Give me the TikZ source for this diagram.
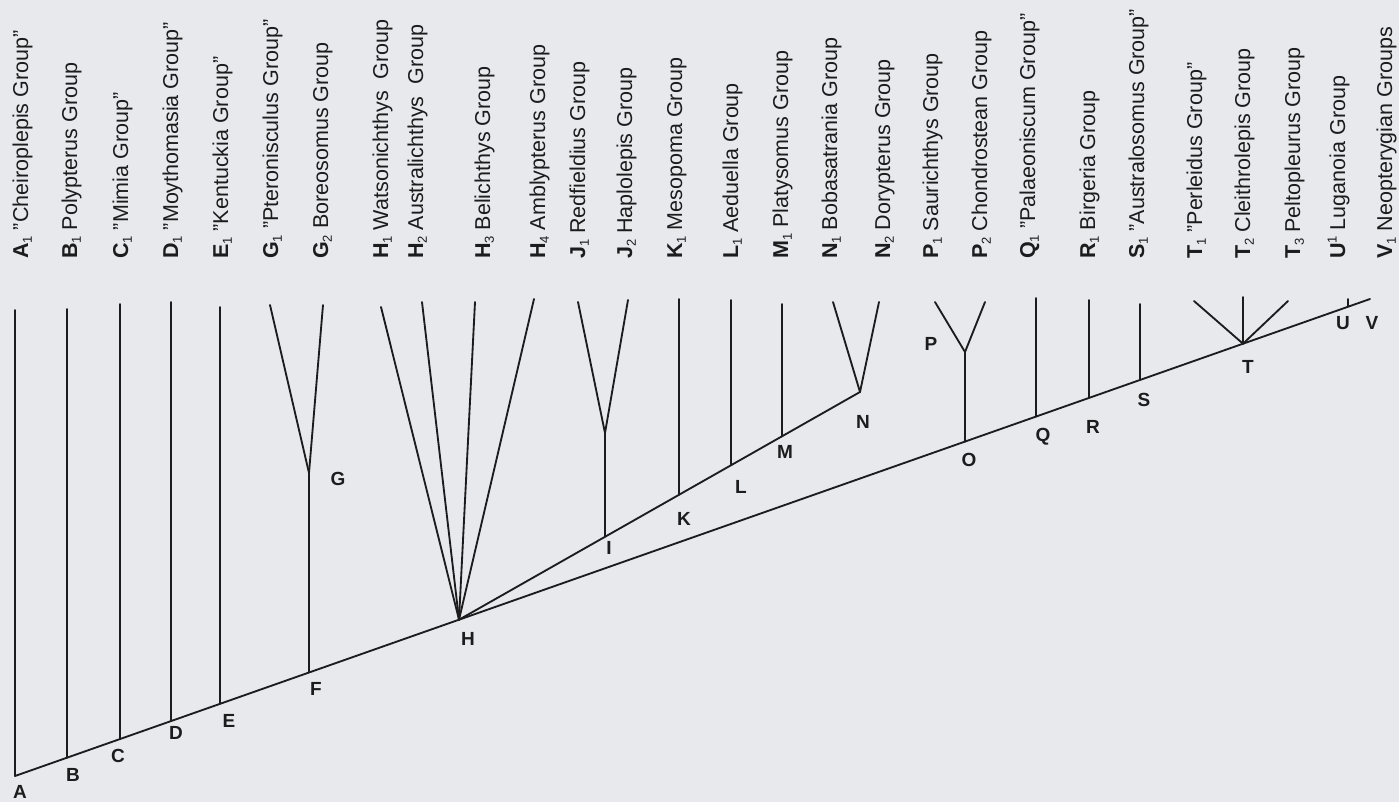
\documentclass[tikz,border=0pt]{standalone}
\usepackage{fontspec}
\setmainfont{Liberation Sans}
\definecolor{bgpaper}{RGB}{232,233,236}
\definecolor{ink}{RGB}{28,28,30}
\newcommand\sbs[1]{\raisebox{-0.35ex}{\fontsize{13}{13}\selectfont #1}}
\newcommand\sps[1]{\raisebox{0.75ex}{\fontsize{13}{13}\selectfont #1}}
\begin{document}
\begin{tikzpicture}[x=1pt,y=-1pt,
  branch/.style={draw=ink, line width=1.85pt, line cap=round, line join=round},
  taxon/.style={rotate=90, anchor=base west, inner sep=0pt, text=ink, font=\fontsize{21.5}{24}\selectfont},
  nodelbl/.style={text=ink, inner sep=0pt, font=\fontsize{19}{22}\selectfont\bfseries}]
\fill[bgpaper] (0,0) rectangle (1399,802);
\useasboundingbox (0,0) rectangle (1399,802);
% junctions on the main line
\coordinate (A) at (15,776);
\coordinate (B) at (67,757.7);
\coordinate (C) at (120,739.0);
\coordinate (D) at (171,721.1);
\coordinate (E) at (220,703.8);
\coordinate (F) at (309,672.5);
\coordinate (H) at (459,619.7);
\coordinate (O) at (965,441.6);
\coordinate (Q) at (1036,416.6);
\coordinate (R) at (1089,397.9);
\coordinate (S) at (1140,380.0);
\coordinate (T) at (1243,343.7);
\coordinate (U) at (1348,306.7);
\coordinate (Vend) at (1370,299);
% junctions on the second line
\coordinate (I) at (605,536.8);
\coordinate (K) at (679,494.8);
\coordinate (L) at (731,465.3);
\coordinate (M) at (782,436.3);
\coordinate (N) at (860,392);
% inner forks
\coordinate (G) at (309,473);
\coordinate (J) at (605,433);
\coordinate (P) at (965,352);
% tips
\coordinate (tA) at (15,310);
\coordinate (tB) at (67,309);
\coordinate (tC) at (120,304);
\coordinate (tD) at (171,302);
\coordinate (tE) at (220,307);
\coordinate (tG1) at (270,305);
\coordinate (tG2) at (323,305);
\coordinate (tH1) at (381,307);
\coordinate (tH2) at (422,302);
\coordinate (tH3) at (475,302);
\coordinate (tH4) at (534,299);
\coordinate (tJ1) at (578,302);
\coordinate (tJ2) at (628,300);
\coordinate (tK) at (679,299);
\coordinate (tL) at (731,300);
\coordinate (tM) at (782,304);
\coordinate (tN1) at (833,302);
\coordinate (tN2) at (879,302);
\coordinate (tP1) at (935,302);
\coordinate (tP2) at (985,302);
\coordinate (tQ) at (1036,298);
\coordinate (tR) at (1089,300);
\coordinate (tS) at (1140,304);
\coordinate (tT1) at (1194,301);
\coordinate (tT2) at (1243,297);
\coordinate (tT3) at (1288,301);
\coordinate (tU) at (1348,299);
% lines
\draw[branch] (A) -- (Vend);
\draw[branch] (H) -- (N);
\draw[branch] (A) -- (tA);
\draw[branch] (B) -- (tB);
\draw[branch] (C) -- (tC);
\draw[branch] (D) -- (tD);
\draw[branch] (E) -- (tE);
\draw[branch] (F) -- (G);
\draw[branch] (G) -- (tG1);
\draw[branch] (G) -- (tG2);
\draw[branch] (H) -- (tH1);
\draw[branch] (H) -- (tH2);
\draw[branch] (H) -- (tH3);
\draw[branch] (H) -- (tH4);
\draw[branch] (I) -- (J);
\draw[branch] (J) -- (tJ1);
\draw[branch] (J) -- (tJ2);
\draw[branch] (K) -- (tK);
\draw[branch] (L) -- (tL);
\draw[branch] (M) -- (tM);
\draw[branch] (N) -- (tN1);
\draw[branch] (N) -- (tN2);
\draw[branch] (O) -- (P);
\draw[branch] (P) -- (tP1);
\draw[branch] (P) -- (tP2);
\draw[branch] (Q) -- (tQ);
\draw[branch] (R) -- (tR);
\draw[branch] (S) -- (tS);
\draw[branch] (T) -- (tT1);
\draw[branch] (T) -- (tT2);
\draw[branch] (T) -- (tT3);
\draw[branch] (U) -- (tU);
% node letters
\node[nodelbl] (lA) at (20,792) {A};
\node[nodelbl] (lB) at (73,775) {B};
\node[nodelbl] (lC) at (118,756) {C};
\node[nodelbl] (lD) at (176,733) {D};
\node[nodelbl] (lE) at (229,721) {E};
\node[nodelbl] (lF) at (316,689) {F};
\node[nodelbl] (lG) at (338,479) {G};
\node[nodelbl] (lH) at (468,639) {H};
\node[nodelbl] (lI) at (609,548) {I};
\node[nodelbl] (lK) at (684,519) {K};
\node[nodelbl] (lL) at (741,487) {L};
\node[nodelbl] (lM) at (785,452) {M};
\node[nodelbl] (lN) at (863,422) {N};
\node[nodelbl] (lO) at (969,460) {O};
\node[nodelbl] (lP) at (931,344) {P};
\node[nodelbl] (lQ) at (1043,437) {Q};
\node[nodelbl] (lR) at (1093,427) {R};
\node[nodelbl] (lS) at (1144,400) {S};
\node[nodelbl] (lT) at (1248,367) {T};
\node[nodelbl] (lU) at (1343,323) {U};
\node[nodelbl] (lV) at (1372,323) {V};
% taxon labels
\node[taxon] (nA1) at (28,259) {\textbf{A}\sbs{1} "Cheiroplepis Group"};
\node[taxon] (nB1) at (77,259) {\textbf{B}\sbs{1} Polypterus Group};
\node[taxon] (nC1) at (128,259) {\textbf{C}\sbs{1} "Mimia Group"};
\node[taxon] (nD1) at (178,259) {\textbf{D}\sbs{1} "Moythomasia Group"};
\node[taxon] (nE1) at (228,259) {\textbf{E}\sbs{1} "Kentuckia Group"};
\node[taxon] (nG1) at (278,259) {\textbf{G}\sbs{1} "Pteronisculus Group"};
\node[taxon] (nG2) at (328,259) {\textbf{G}\sbs{2} Boreosomus Group};
\node[taxon] (nH1) at (388,259) {\textbf{H}\sbs{1} Watsonichthys\ \ Group};
\node[taxon] (nH2) at (423,259) {\textbf{H}\sbs{2} Australichthys\ \ Group};
\node[taxon] (nH3) at (490,259) {\textbf{H}\sbs{3} Belichthys Group};
\node[taxon] (nH4) at (545,259) {\textbf{H}\sbs{4} Amblypterus Group};
\node[taxon] (nJ1) at (585,259) {\textbf{J}\sbs{1} Redfieldius Group};
\node[taxon] (nJ2) at (632,259) {\textbf{J}\sbs{2} Haplolepis Group};
\node[taxon] (nK1) at (682,259) {\textbf{K}\sbs{1} Mesopoma Group};
\node[taxon] (nL1) at (738,259) {\textbf{L}\sbs{1} Aeduella Group};
\node[taxon] (nM1) at (788,259) {\textbf{M}\sbs{1} Platysomus Group};
\node[taxon] (nN1) at (837,259) {\textbf{N}\sbs{1} Bobasatrania Group};
\node[taxon] (nN2) at (890,259) {\textbf{N}\sbs{2} Dorypterus Group};
\node[taxon] (nP1) at (938,259) {\textbf{P}\sbs{1} Saurichthys Group};
\node[taxon] (nP2) at (987,259) {\textbf{P}\sbs{2} Chondrostean Group};
\node[taxon] (nQ1) at (1035,259) {\textbf{Q}\sbs{1} "Palaeoniscum Group"};
\node[taxon] (nR1) at (1095,259) {\textbf{R}\sbs{1} Birgeria Group};
\node[taxon] (nS1) at (1144,259) {\textbf{S}\sbs{1} "Australosomus Group"};
\node[taxon] (nT1) at (1202,259) {\textbf{T}\sbs{1} "Perleidus Group"};
\node[taxon] (nT2) at (1250,259) {\textbf{T}\sbs{2} Cleithrolepis Group};
\node[taxon] (nT3) at (1300,259) {\textbf{T}\sbs{3} Peltopleurus Group};
\node[taxon] (nU1) at (1345,259) {\textbf{U}\sps{1} Luganoia Group};
\node[taxon] (nV1) at (1392,259) {\textbf{V}\sbs{1} Neopterygian Groups};
\end{tikzpicture}
\end{document}
